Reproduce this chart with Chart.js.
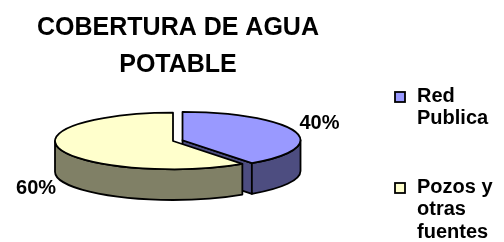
<!DOCTYPE html>
<html>
<head>
<meta charset="utf-8">
<script src="https://cdn.jsdelivr.net/npm/chart.js@4.4.1/dist/chart.umd.min.js"></script>
<style>
  body { margin: 0; background: #fff; }
  canvas { display: block; }
</style>
</head>
<body>
<canvas id="myChart" width="504" height="242"></canvas>
<script>
// Datos del gráfico
const titleLines = ["COBERTURA DE AGUA", "POTABLE"];
const categories = [["Red", "Publica"], ["Pozos y", "otras", "fuentes"]];
const values = [40, 60];

// Estilo
const topColors = ["#9999FF", "#FFFFCC"];
const sideColors = ["#4D4D80", "#808066"];
const TILT = 0.24;   // aplastamiento vertical de la elipse
const DEPTH = 0.26;  // altura del cilindro respecto al radio
const FONT = "'Liberation Sans', Arial, sans-serif";

// Dibuja la torta en 3D a partir de los arcos calculados por Chart.js
const pie3d = {
  id: "pie3d",
  beforeDatasetsDraw(chart) {
    const c = chart.ctx;
    const arcs = chart.getDatasetMeta(0).data;
    const total = values.reduce((a, b) => a + b, 0);

    const slices = arcs.map((arc, i) => {
      const p = arc.getProps(["x", "y", "startAngle", "endAngle", "outerRadius"]);
      const mid = (p.startAngle + p.endAngle) / 2;
      const off = arc.options.offset || 0;
      const rx = p.outerRadius;
      return {
        i, mid,
        a1: p.startAngle, a2: p.endAngle,
        rx, ry: rx * TILT, h: rx * DEPTH,
        cx: p.x + Math.cos(mid) * off,
        cy: p.y + Math.sin(mid) * off * TILT
      };
    });

    const pt = (s, a, dy) => [s.cx + s.rx * Math.cos(a), s.cy + s.ry * Math.sin(a) + (dy || 0)];

    c.save();
    c.lineWidth = 1.8;
    c.strokeStyle = "#000";
    c.lineJoin = "round";

    // caras de corte visibles (trozo separado)
    slices.forEach(s => {
      [[s.a1, s.a1 - Math.PI / 2], [s.a2, s.a2 + Math.PI / 2]].forEach(([a, n]) => {
        if (Math.sin(n) <= 0.01) return;
        const e = pt(s, a);
        c.beginPath();
        c.moveTo(s.cx, s.cy);
        c.lineTo(e[0], e[1]);
        c.lineTo(e[0], e[1] + s.h);
        c.lineTo(s.cx, s.cy + s.h);
        c.closePath();
        c.fillStyle = sideColors[s.i];
        c.fill();
        c.stroke();
      });
    });

    // paredes laterales (mitad frontal)
    slices.forEach(s => {
      [[0, Math.PI], [2 * Math.PI, 3 * Math.PI], [-2 * Math.PI, -Math.PI]].forEach(([lo, hi]) => {
        const b1 = Math.max(s.a1, lo), b2 = Math.min(s.a2, hi);
        if (b2 <= b1) return;
        const e = pt(s, b2);
        c.beginPath();
        c.ellipse(s.cx, s.cy, s.rx, s.ry, 0, b1, b2);
        c.lineTo(e[0], e[1] + s.h);
        c.ellipse(s.cx, s.cy + s.h, s.rx, s.ry, 0, b2, b1, true);
        c.closePath();
        c.fillStyle = sideColors[s.i];
        c.fill();
        c.stroke();
      });
    });

    // caras superiores
    slices.forEach(s => {
      c.beginPath();
      c.moveTo(s.cx, s.cy);
      c.ellipse(s.cx, s.cy, s.rx, s.ry, 0, s.a1, s.a2);
      c.closePath();
      c.fillStyle = topColors[s.i];
      c.fill();
      c.stroke();
    });

    // etiquetas de porcentaje
    c.fillStyle = "#000";
    c.font = "bold 20px " + FONT;
    c.textAlign = "center";
    c.textBaseline = "middle";
    slices.forEach(s => {
      const e = pt(s, s.mid);
      const x = e[0] + Math.cos(s.mid) * 26;
      const y = e[1] + Math.sin(s.mid) * 25 + (Math.sin(s.mid) > 0 ? s.h : 0);
      c.fillText(Math.round(values[s.i] / total * 100) + "%", x, y);
    });
    c.restore();
    return false;
  },
  afterDraw(chart) {
    const c = chart.ctx;
    c.save();
    c.fillStyle = "#000";
    // título
    c.font = "bold 25px " + FONT;
    c.textAlign = "center";
    c.textBaseline = "alphabetic";
    titleLines.forEach((t, k) => c.fillText(t, 178, 35 + k * 37));

    // leyenda
    const tops = [92, 183];
    c.font = "bold 20px " + FONT;
    c.textAlign = "left";
    c.textBaseline = "middle";
    categories.forEach((lines, i) => {
      c.fillStyle = topColors[i];
      c.fillRect(395, tops[i], 10, 10);
      c.lineWidth = 1.8;
      c.strokeStyle = "#000";
      c.strokeRect(395, tops[i], 10, 10);
      c.fillStyle = "#000";
      lines.forEach((t, k) => c.fillText(t, 417, tops[i] + 4 + k * 22.5));
    });
    c.restore();
  }
};

const ctx = document.getElementById("myChart");
const myChart = new Chart(ctx, {
  type: "pie",
  data: {
    labels: categories,
    datasets: [
      {
        data: values,
        backgroundColor: topColors,
        borderColor: "#000",
        borderWidth: 1.8,
        offset: [10, 0],
        radius: 118
      }
    ]
  },
  options: {
    responsive: false,
    animation: false,
    devicePixelRatio: 1,
    events: [],
    layout: { padding: { left: 0, right: 158, top: 40, bottom: 0 } },
    plugins: {
      legend: { display: false },
      title: { display: false },
      tooltip: { enabled: false }
    }
  },
  plugins: [pie3d]
});
</script>
</body>
</html>
